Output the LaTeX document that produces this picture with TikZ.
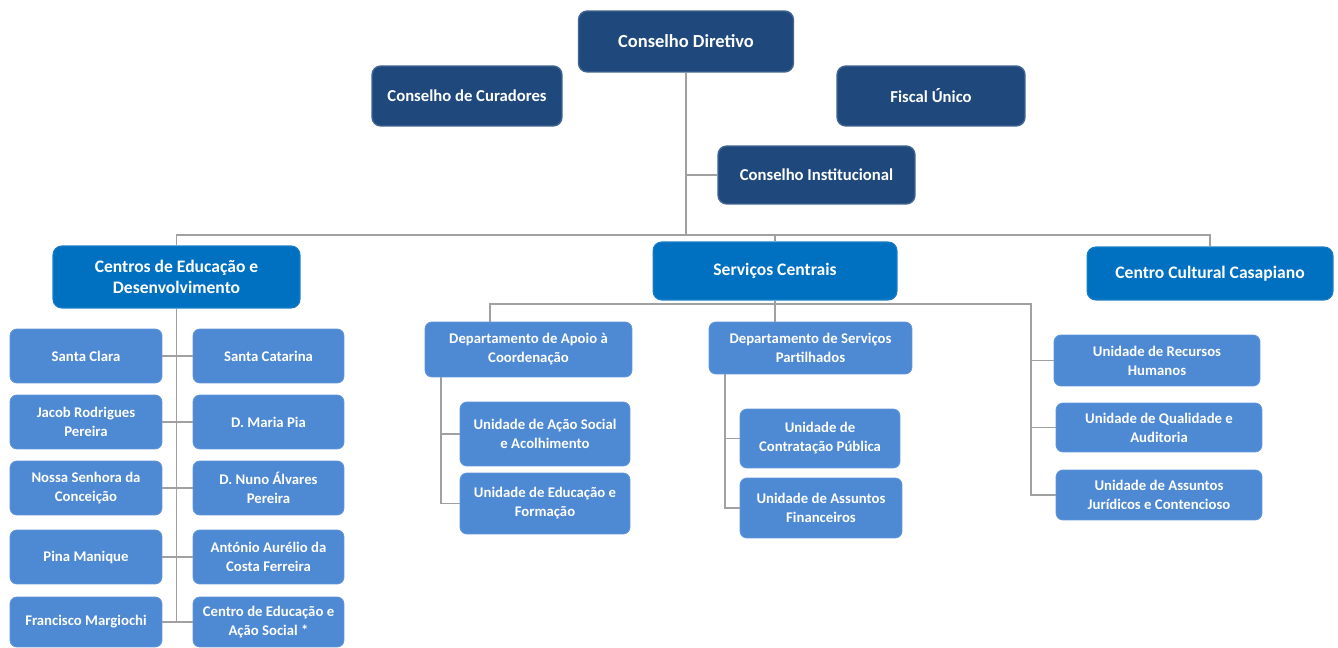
\documentclass[tikz,border=0pt]{standalone}
\usepackage{fontspec}
\setmainfont{Carlito}
\usepackage{xcolor}
\usepackage{tikz}
\usetikzlibrary{positioning, calc}

\definecolor{navy}{RGB}{31,73,125}
\definecolor{midblue}{RGB}{0,112,192}
\definecolor{unitblue}{RGB}{78,137,212}
\definecolor{linegray}{RGB}{160,160,160}

\begin{document}
\begin{tikzpicture}[
    x=0.02cm, y=-0.02cm,
    board/.style={rectangle, draw=navy!85!white, fill=navy, line width=0.8pt, rounded corners=5pt, align=center, text=white, font=\fontsize{9.5}{11.5}\selectfont\bfseries, inner sep=2pt},
    branch/.style={rectangle, draw=midblue!90!white, fill=midblue, line width=0.6pt, rounded corners=5pt, align=center, text=white, font=\fontsize{10}{11.5}\selectfont\bfseries, inner sep=2pt},
    unit/.style={rectangle, draw=unitblue!90!white, fill=unitblue, line width=0.5pt, rounded corners=4pt, align=center, text=white, font=\fontsize{8.4}{10.8}\selectfont\bfseries, inner sep=1pt},
    link/.style={draw=linegray, line width=0.7pt}
]
    \useasboundingbox (0,0) rectangle (1338,648);

    % governing bodies
    \node [board, font=\fontsize{10.5}{12.5}\selectfont\bfseries, minimum width=4.3cm, minimum height=1.22cm] (dir) at (686,41.5) {Conselho Diretivo};
    \node [board, minimum width=3.8cm, minimum height=1.2cm] (cur) at (467,96) {Conselho de Curadores};
    \node [board, minimum width=3.76cm, minimum height=1.2cm] (fis) at (931,96) {Fiscal Único};
    \node [board, minimum width=3.94cm, minimum height=1.16cm] (inst) at (816.5,175) {Conselho Institucional};

    % main branches
    \node [branch, minimum width=4.94cm, minimum height=1.24cm] (ced) at (176.5,277) {Centros de Educação e\\Desenvolvimento};
    \node [branch, minimum width=4.88cm, minimum height=1.16cm] (ser) at (775,271) {Serviços Centrais};
    \node [branch, minimum width=4.92cm, minimum height=1.06cm] (ccc) at (1210,273.5) {Centro Cultural Casapiano};

    \coordinate (hub) at (686,235);
    \draw [link] (dir.south) -- (hub);
    \draw [link] (inst.west) -- (inst.west -| hub);
    \draw [link] (ced.north) -- (ced.north |- hub) -- (ccc.north |- hub) -- (ccc.north);
    \draw [link] (ser.north) -- (ser.north |- hub);

    % centros de educacao
    \node [unit, minimum width=3.04cm, minimum height=1.08cm] (sclara) at (86,356) {Santa Clara};
    \node [unit, minimum width=3.02cm, minimum height=1.08cm] (scatarina) at (268.5,356) {Santa Catarina};
    \node [unit, minimum width=3.04cm, minimum height=1.08cm] (jacob) at (86,422) {Jacob Rodrigues\\Pereira};
    \node [unit, minimum width=3.02cm, minimum height=1.08cm] (mpia) at (268.5,422) {D. Maria Pia};
    \node [unit, minimum width=3.04cm, minimum height=1.08cm] (nsenhora) at (86,488) {Nossa Senhora da\\Conceição};
    \node [unit, minimum width=3.02cm, minimum height=1.08cm] (nuno) at (268.5,488) {D. Nuno Álvares\\Pereira};
    \node [unit, minimum width=3.04cm, minimum height=1.08cm] (pina) at (86,557) {Pina Manique};
    \node [unit, minimum width=3.02cm, minimum height=1.08cm] (aurelio) at (268.5,557) {António Aurélio da\\Costa  Ferreira};
    \node [unit, minimum width=3.04cm, minimum height=1.0cm] (margiochi) at (86,622) {Francisco Margiochi};
    \node [unit, minimum width=3.02cm, minimum height=1.0cm] (ceas) at (268.5,622) {Centro de Educação e\\Ação Social *};

    \draw [link] (ced.south) -- (ced.south |- ceas.west);
    \draw [link] (sclara.east) -- (scatarina.west);
    \draw [link] (jacob.east) -- (mpia.west);
    \draw [link] (nsenhora.east) -- (nuno.west);
    \draw [link] (pina.east) -- (aurelio.west);
    \draw [link] (margiochi.east) -- (ceas.west);

    % servicos centrais
    \node [unit, minimum width=4.14cm, minimum height=1.1cm] (dac) at (528.5,349.5) {Departamento de Apoio à\\Coordenação};
    \node [unit, minimum width=4.06cm, minimum height=1.04cm] (dsp) at (810.5,348) {Departamento de  Serviços\\Partilhados};
    \node [unit, minimum width=3.4cm, minimum height=1.28cm] (uas) at (545,434) {Unidade de Ação Social\\e Acolhimento};
    \node [unit, minimum width=3.4cm, minimum height=1.22cm] (uef) at (545,503.5) {Unidade de Educação  e\\Formação};
    \node [unit, minimum width=3.2cm, minimum height=1.18cm] (ucp) at (820,438.5) {Unidade de\\Contratação Pública};
    \node [unit, minimum width=3.24cm, minimum height=1.2cm] (uaf) at (821,508) {Unidade de Assuntos\\Financeiros};
    \node [unit, minimum width=4.12cm, minimum height=1.02cm] (urh) at (1157,360.5) {Unidade de Recursos\\Humanos};
    \node [unit, minimum width=4.12cm, minimum height=0.98cm] (uqa) at (1159,427.5) {Unidade de Qualidade e\\Auditoria};
    \node [unit, minimum width=4.12cm, minimum height=1.0cm] (uaj) at (1159,495) {Unidade de Assuntos\\Jurídicos e Contencioso};

    \coordinate (sbus) at (775,304);
    \coordinate (dacdrop) at (490,0);
    \coordinate (dacbar) at (441,0);
    \coordinate (dspbar) at (725,0);
    \coordinate (unitbar) at (1031,0);
    \draw [link] (ser.south) -- (sbus);
    \draw [link] (dac.north -| dacdrop) -- (sbus -| dacdrop) -- (sbus -| unitbar) -- (uaj.west -| unitbar) -- (uaj.west);
    \draw [link] (sbus) -- (dsp.north -| sbus);
    \draw [link] (urh.west) -- (urh.west -| unitbar);
    \draw [link] (uqa.west) -- (uqa.west -| unitbar);
    \draw [link] (dac.south -| dacbar) -- (uef.west -| dacbar) -- (uef.west);
    \draw [link] (uas.west) -- (uas.west -| dacbar);
    \draw [link] (dsp.south -| dspbar) -- (uaf.west -| dspbar) -- (uaf.west);
    \draw [link] (ucp.west) -- (ucp.west -| dspbar);
\end{tikzpicture}
\end{document}
